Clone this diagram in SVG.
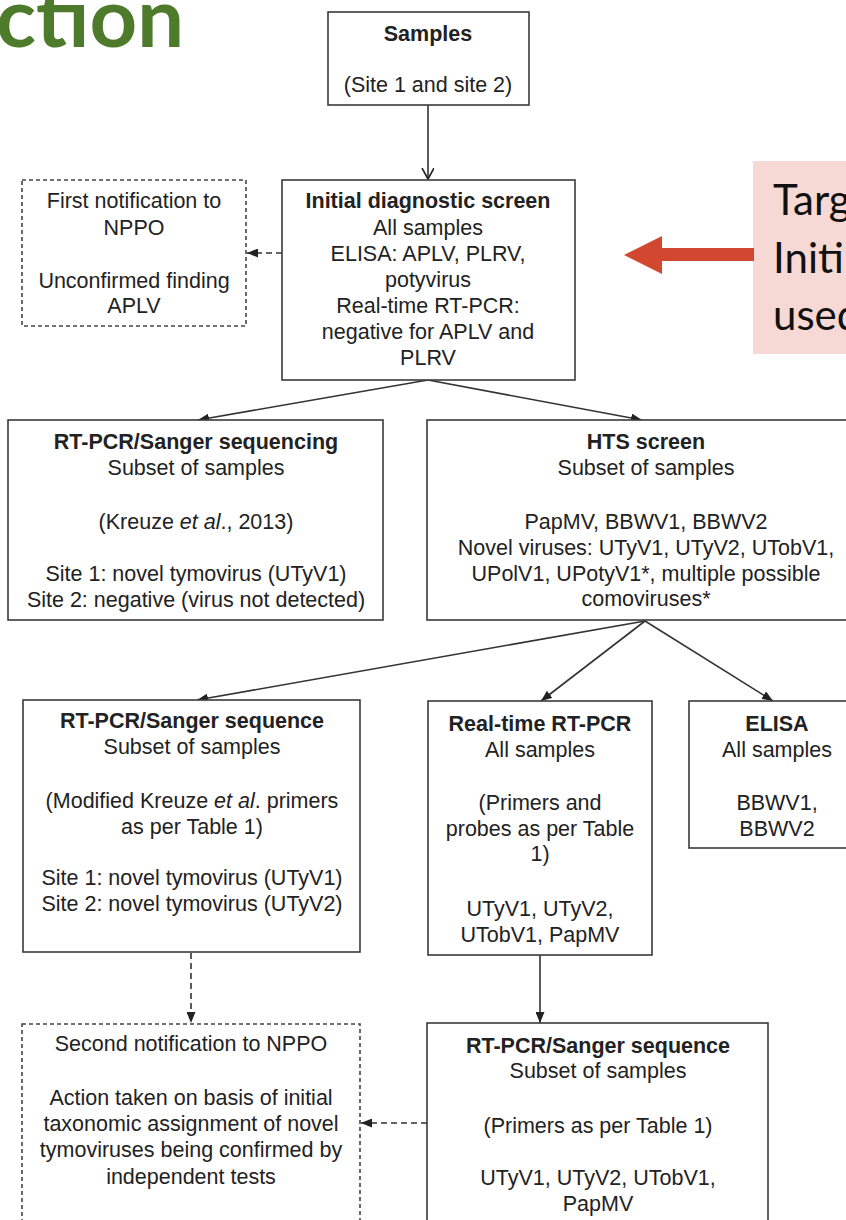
<svg xmlns="http://www.w3.org/2000/svg" width="846" height="1220" viewBox="0 0 846 1220">
<style>
.box{fill:#fff;stroke:#3a3a3a;stroke-width:1.6}
.dbox{fill:#fff;stroke:#444;stroke-width:1.6;stroke-dasharray:4 3}
.t{font-family:"Liberation Sans",Arial,sans-serif;font-size:21.5px;fill:#222;text-anchor:middle}
.b{font-weight:bold}
.c{fill:none;stroke:#333;stroke-width:1.6}
.d{fill:none;stroke:#333;stroke-width:1.6;stroke-dasharray:6 4}
</style>
<defs>
<marker id="tri" markerUnits="userSpaceOnUse" markerWidth="11" markerHeight="9" refX="11" refY="4.5" orient="auto">
<path d="M0,0 L11,4.5 L0,9 z" fill="#222"/>
</marker>
<marker id="vee" markerUnits="userSpaceOnUse" markerWidth="14" markerHeight="14" refX="11" refY="6" orient="auto">
<path d="M0,0 L11,6 L0,12" fill="none" stroke="#222" stroke-width="1.6"/>
</marker>
</defs>
<rect width="846" height="1220" fill="#fff"/>

<text x="184" y="47" font-family="Lato,'Open Sans',sans-serif" font-weight="bold" font-size="83" fill="#4e7a2c" text-anchor="end">ction</text>

<g id="callout">
<rect x="753" y="161" width="100" height="193" fill="#f6d9d5"/>
<polygon points="754,248 662,248 662,236 624,255 662,274 662,261 754,261" fill="#d2472f"/>
<g font-family="Lato,'Open Sans',sans-serif" font-size="42" fill="#111">
<text x="773" y="215">Targ</text>
<text x="773" y="273">Initi</text>
<text x="773" y="330">used</text>
</g>
</g>

<g id="connectors">
<line class="c" x1="428" y1="105" x2="428" y2="179" marker-end="url(#vee)"/>
<line class="d" x1="282" y1="253" x2="247" y2="253" marker-end="url(#tri)"/>
<line class="c" x1="428" y1="380" x2="198" y2="420" marker-end="url(#tri)"/>
<line class="c" x1="428" y1="380" x2="642" y2="420" marker-end="url(#tri)"/>
<line class="c" x1="645" y1="621" x2="197" y2="700" marker-end="url(#tri)"/>
<line class="c" x1="645" y1="621" x2="541" y2="701" marker-end="url(#tri)"/>
<line class="c" x1="645" y1="621" x2="773" y2="701" marker-end="url(#tri)"/>
<line class="d" x1="191" y1="953" x2="191" y2="1023" marker-end="url(#tri)"/>
<line class="c" x1="540" y1="955" x2="540" y2="1023" marker-end="url(#tri)"/>
<line class="d" x1="427" y1="1123" x2="361" y2="1123" marker-end="url(#tri)"/>
</g>

<g id="samples">
<rect class="box" x="328" y="12" width="201" height="93"/>
<text class="t b" x="428" y="41">Samples</text>
<text class="t" x="428" y="92">(Site 1 and site 2)</text>
</g>

<g id="initial">
<rect class="box" x="282" y="180" width="293" height="200"/>
<text class="t b" x="428" y="208">Initial diagnostic screen</text>
<text class="t" x="428" y="235">All samples</text>
<text class="t" x="428" y="261">ELISA: APLV, PLRV,</text>
<text class="t" x="428" y="287">potyvirus</text>
<text class="t" x="428" y="313">Real-time RT-PCR:</text>
<text class="t" x="428" y="339">negative for APLV and</text>
<text class="t" x="428" y="365">PLRV</text>
</g>

<g id="first-notification">
<rect class="dbox" x="22" y="180" width="224" height="146"/>
<text class="t" x="134" y="208">First notification to</text>
<text class="t" x="134" y="235">NPPO</text>
<text class="t" x="134" y="288">Unconfirmed finding</text>
<text class="t" x="134" y="313">APLV</text>
</g>

<g id="rtpcr-sanger-1">
<rect class="box" x="8" y="420" width="375" height="200"/>
<text class="t b" x="196" y="449">RT-PCR/Sanger sequencing</text>
<text class="t" x="196" y="475">Subset of samples</text>
<text class="t" x="196" y="529">(Kreuze <tspan font-style="italic">et al</tspan>., 2013)</text>
<text class="t" x="196" y="581">Site 1: novel tymovirus (UTyV1)</text>
<text class="t" x="196" y="607">Site 2: negative (virus not detected)</text>
</g>

<g id="hts">
<rect class="box" x="427" y="420" width="438" height="200"/>
<text class="t b" x="646" y="449">HTS screen</text>
<text class="t" x="646" y="475">Subset of samples</text>
<text class="t" x="646" y="529">PapMV, BBWV1, BBWV2</text>
<text class="t" x="646" y="555">Novel viruses: UTyV1, UTyV2, UTobV1,</text>
<text class="t" x="646" y="581">UPolV1, UPotyV1*, multiple possible</text>
<text class="t" x="646" y="606">comoviruses*</text>
</g>

<g id="rtpcr-sanger-2">
<rect class="box" x="23" y="700" width="337" height="252"/>
<text class="t b" x="192" y="728">RT-PCR/Sanger sequence</text>
<text class="t" x="192" y="754">Subset of samples</text>
<text class="t" x="192" y="808">(Modified Kreuze <tspan font-style="italic">et al</tspan>. primers</text>
<text class="t" x="192" y="834">as per Table 1)</text>
<text class="t" x="192" y="885">Site 1: novel tymovirus (UTyV1)</text>
<text class="t" x="192" y="911">Site 2: novel tymovirus (UTyV2)</text>
</g>

<g id="realtime">
<rect class="box" x="428" y="701" width="224" height="254"/>
<text class="t b" x="540" y="731">Real-time RT-PCR</text>
<text class="t" x="540" y="757">All samples</text>
<text class="t" x="540" y="810">(Primers and</text>
<text class="t" x="540" y="836">probes as per Table</text>
<text class="t" x="540" y="861">1)</text>
<text class="t" x="540" y="916">UTyV1, UTyV2,</text>
<text class="t" x="540" y="942">UTobV1, PapMV</text>
</g>

<g id="elisa">
<rect class="box" x="689" y="701" width="176" height="147"/>
<text class="t b" x="777" y="731">ELISA</text>
<text class="t" x="777" y="757">All samples</text>
<text class="t" x="777" y="810">BBWV1,</text>
<text class="t" x="777" y="836">BBWV2</text>
</g>

<g id="second-notification">
<rect class="dbox" x="22" y="1024" width="338" height="220"/>
<text class="t" x="191" y="1051">Second notification to NPPO</text>
<text class="t" x="191" y="1105">Action taken on basis of initial</text>
<text class="t" x="191" y="1131">taxonomic assignment of novel</text>
<text class="t" x="191" y="1157">tymoviruses being confirmed by</text>
<text class="t" x="191" y="1184">independent tests</text>
</g>

<g id="rtpcr-sanger-3">
<rect class="box" x="427" y="1023" width="341" height="220"/>
<text class="t b" x="598" y="1053">RT-PCR/Sanger sequence</text>
<text class="t" x="598" y="1078">Subset of samples</text>
<text class="t" x="598" y="1133">(Primers as per Table 1)</text>
<text class="t" x="598" y="1185">UTyV1, UTyV2, UTobV1,</text>
<text class="t" x="598" y="1211">PapMV</text>
</g>
</svg>
